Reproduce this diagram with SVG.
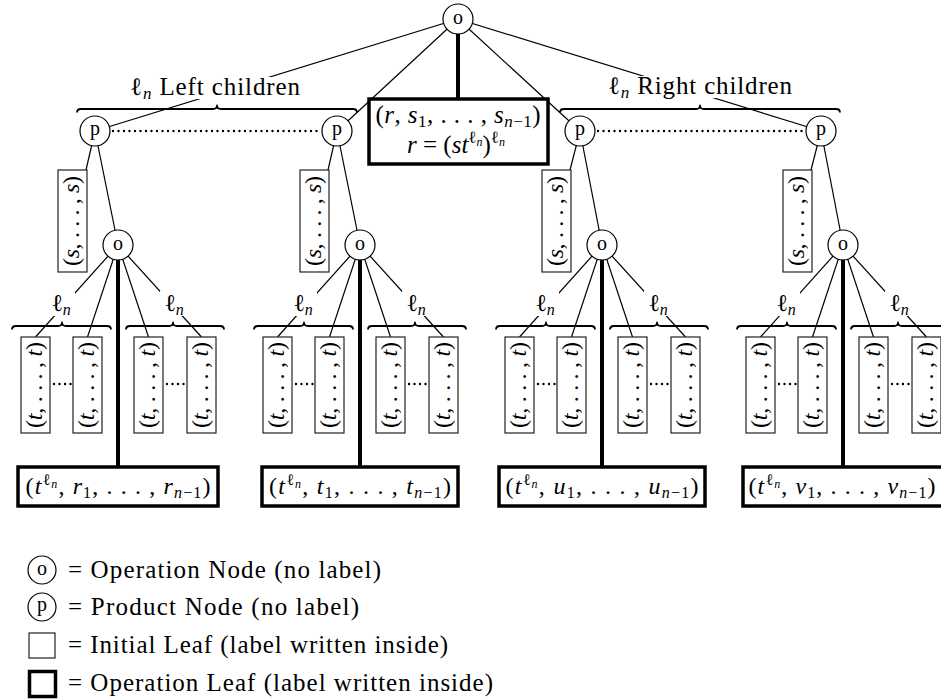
<svg xmlns="http://www.w3.org/2000/svg" width="941" height="700" viewBox="0 0 941 700">
<style>
.ln{stroke:#000;stroke-width:1.2;fill:none}
.thick{stroke:#000;stroke-width:4;fill:none}
.dot{stroke:#000;stroke-width:2.4;fill:none;stroke-dasharray:0 5.5;stroke-linecap:round}
.circ{fill:#fff;stroke:#000;stroke-width:1.2}
.leaf{fill:#fff;stroke:#222;stroke-width:1.2}
.op{fill:#fff;stroke:#000;stroke-width:3.5}
.brace{fill:none;stroke:#000;stroke-width:1.8;stroke-linejoin:round}
.bg{fill:#fff;stroke:none}
text{font-family:"Liberation Serif","DejaVu Serif",serif;fill:#000;font-size:24px}
.i{font-style:italic}
.cl{font-size:20px;text-anchor:middle}
.m{text-anchor:middle}
.lg{font-size:25px}
.big{font-size:25px}
</style>
<g id="connectors">
<line class="ln" x1="458" y1="19" x2="95" y2="131"/>
<line class="ln" x1="458" y1="19" x2="337" y2="131"/>
<line class="ln" x1="458" y1="19" x2="580" y2="131"/>
<line class="ln" x1="458" y1="19" x2="821" y2="131"/>
<line class="thick" x1="458" y1="19" x2="458" y2="99"/>
<line class="dot" x1="113" y1="131" x2="322" y2="131"/>
<line class="dot" x1="598" y1="131" x2="806" y2="131"/>
<line class="ln" x1="95" y1="131" x2="86" y2="170"/>
<line class="ln" x1="95" y1="131" x2="118" y2="245"/>
<line class="ln" x1="118" y1="245" x2="35.5" y2="337"/>
<line class="ln" x1="118" y1="245" x2="87.5" y2="337"/>
<line class="ln" x1="118" y1="245" x2="148.5" y2="337"/>
<line class="ln" x1="118" y1="245" x2="201.5" y2="337"/>
<line class="thick" x1="118" y1="245" x2="118" y2="467"/>
<line class="dot" x1="54" y1="384" x2="71" y2="384"/>
<line class="dot" x1="167" y1="384" x2="185" y2="384"/>
<line class="ln" x1="337" y1="131" x2="328" y2="170"/>
<line class="ln" x1="337" y1="131" x2="360" y2="245"/>
<line class="ln" x1="360" y1="245" x2="277.5" y2="337"/>
<line class="ln" x1="360" y1="245" x2="329.5" y2="337"/>
<line class="ln" x1="360" y1="245" x2="390.5" y2="337"/>
<line class="ln" x1="360" y1="245" x2="443.5" y2="337"/>
<line class="thick" x1="360" y1="245" x2="360" y2="467"/>
<line class="dot" x1="296" y1="384" x2="313" y2="384"/>
<line class="dot" x1="409" y1="384" x2="427" y2="384"/>
<line class="ln" x1="580" y1="131" x2="570" y2="170"/>
<line class="ln" x1="580" y1="131" x2="602" y2="245"/>
<line class="ln" x1="602" y1="245" x2="519.5" y2="337"/>
<line class="ln" x1="602" y1="245" x2="571.5" y2="337"/>
<line class="ln" x1="602" y1="245" x2="632.5" y2="337"/>
<line class="ln" x1="602" y1="245" x2="685.5" y2="337"/>
<line class="thick" x1="602" y1="245" x2="602" y2="467"/>
<line class="dot" x1="538" y1="384" x2="555" y2="384"/>
<line class="dot" x1="651" y1="384" x2="669" y2="384"/>
<line class="ln" x1="821" y1="131" x2="811" y2="170"/>
<line class="ln" x1="821" y1="131" x2="843" y2="245"/>
<line class="ln" x1="843" y1="245" x2="760.5" y2="337"/>
<line class="ln" x1="843" y1="245" x2="812.5" y2="337"/>
<line class="ln" x1="843" y1="245" x2="873.5" y2="337"/>
<line class="ln" x1="843" y1="245" x2="926.5" y2="337"/>
<line class="thick" x1="843" y1="245" x2="843" y2="467"/>
<line class="dot" x1="779" y1="384" x2="796" y2="384"/>
<line class="dot" x1="892" y1="384" x2="910" y2="384"/>
</g>
<g id="labels">
<rect class="bg" x="126" y="77" width="179" height="22"/>
<text class="lg" x="130" y="95" textLength="170">ℓ<tspan class="i" font-size="17" dy="4">n</tspan><tspan dy="-4"> Left children</tspan></text>
<path class="brace" d="M77,112.5 Q77,109 81,109 L213,109 Q217,109 217,105.5 Q217,109 221,109 L353,109 Q357,109 357,112.5"/>
<rect class="bg" x="604" y="76" width="192" height="22"/>
<text class="lg" x="608" y="94" textLength="184">ℓ<tspan class="i" font-size="17" dy="4">n</tspan><tspan dy="-4"> Right children</tspan></text>
<path class="brace" d="M560,112.5 Q560,109 564,109 L696,109 Q700,109 700,105.5 Q700,109 704,109 L836,109 Q840,109 840,112.5"/>
<rect class="bg" x="47" y="291" width="28" height="25"/>
<text class="m" x="61" y="311">ℓ<tspan class="i" font-size="16" dy="4">n</tspan></text>
<rect class="bg" x="160" y="291" width="28" height="25"/>
<text class="m" x="174" y="311">ℓ<tspan class="i" font-size="16" dy="4">n</tspan></text>
<path class="brace" d="M12,329.5 Q12,326 16,326 L58,326 Q62,326 62,322.5 Q62,326 66,326 L107,326 Q111,326 111,329.5"/>
<path class="brace" d="M126,329.5 Q126,326 130,326 L169,326 Q173,326 173,322.5 Q173,326 177,326 L220,326 Q224,326 224,329.5"/>
<rect class="bg" x="289" y="291" width="28" height="25"/>
<text class="m" x="303" y="311">ℓ<tspan class="i" font-size="16" dy="4">n</tspan></text>
<rect class="bg" x="402" y="291" width="28" height="25"/>
<text class="m" x="416" y="311">ℓ<tspan class="i" font-size="16" dy="4">n</tspan></text>
<path class="brace" d="M254,329.5 Q254,326 258,326 L300,326 Q304,326 304,322.5 Q304,326 308,326 L349,326 Q353,326 353,329.5"/>
<path class="brace" d="M368,329.5 Q368,326 372,326 L411,326 Q415,326 415,322.5 Q415,326 419,326 L462,326 Q466,326 466,329.5"/>
<rect class="bg" x="531" y="291" width="28" height="25"/>
<text class="m" x="545" y="311">ℓ<tspan class="i" font-size="16" dy="4">n</tspan></text>
<rect class="bg" x="644" y="291" width="28" height="25"/>
<text class="m" x="658" y="311">ℓ<tspan class="i" font-size="16" dy="4">n</tspan></text>
<path class="brace" d="M496,329.5 Q496,326 500,326 L542,326 Q546,326 546,322.5 Q546,326 550,326 L591,326 Q595,326 595,329.5"/>
<path class="brace" d="M610,329.5 Q610,326 614,326 L653,326 Q657,326 657,322.5 Q657,326 661,326 L704,326 Q708,326 708,329.5"/>
<rect class="bg" x="772" y="291" width="28" height="25"/>
<text class="m" x="786" y="311">ℓ<tspan class="i" font-size="16" dy="4">n</tspan></text>
<rect class="bg" x="885" y="291" width="28" height="25"/>
<text class="m" x="899" y="311">ℓ<tspan class="i" font-size="16" dy="4">n</tspan></text>
<path class="brace" d="M737,329.5 Q737,326 741,326 L783,326 Q787,326 787,322.5 Q787,326 791,326 L832,326 Q836,326 836,329.5"/>
<path class="brace" d="M851,329.5 Q851,326 855,326 L894,326 Q898,326 898,322.5 Q898,326 902,326 L945,326 Q949,326 949,329.5"/>
</g>
<g id="root">
<circle class="circ" cx="458" cy="19" r="15"/>
<text class="cl" x="458" y="23.5">o</text>
</g>
<g id="root-leaf">
<rect class="op" x="369" y="99" width="179" height="65"/>
<text class="m big" x="458" y="123" textLength="165">(<tspan class="i">r</tspan>, <tspan class="i">s</tspan><tspan font-size="17" dy="4">1</tspan><tspan dy="-4">, . . . , </tspan><tspan class="i">s</tspan><tspan font-size="17" dy="4"><tspan class="i">n</tspan>−1</tspan><tspan dy="-4">)</tspan></text>
<text class="m big" x="456" y="153"><tspan class="i">r</tspan> = (<tspan class="i">st</tspan><tspan font-size="17" dy="-10">ℓ</tspan><tspan class="i" font-size="12" dy="3">n</tspan><tspan dy="7">)</tspan><tspan font-size="17" dy="-10">ℓ</tspan><tspan class="i" font-size="12" dy="3">n</tspan></text>
</g>
<g id="p1"><circle class="circ" cx="95" cy="131" r="15"/><text class="cl" x="95" y="135">p</text></g>
<g id="p2"><circle class="circ" cx="337" cy="131" r="15"/><text class="cl" x="337" y="135">p</text></g>
<g id="p3"><circle class="circ" cx="580" cy="131" r="15"/><text class="cl" x="580" y="135">p</text></g>
<g id="p4"><circle class="circ" cx="821" cy="131" r="15"/><text class="cl" x="821" y="135">p</text></g>
<g id="s1"><rect class="leaf" x="58" y="170" width="29" height="102"/><text class="m" transform="translate(72.5,221) rotate(-90)" x="0" y="6.5" textLength="90">(<tspan class="i">s</tspan>, . . . , <tspan class="i">s</tspan>)</text></g>
<g id="s2"><rect class="leaf" x="300" y="170" width="29" height="102"/><text class="m" transform="translate(314.5,221) rotate(-90)" x="0" y="6.5" textLength="90">(<tspan class="i">s</tspan>, . . . , <tspan class="i">s</tspan>)</text></g>
<g id="s3"><rect class="leaf" x="542" y="170" width="29" height="102"/><text class="m" transform="translate(556.5,221) rotate(-90)" x="0" y="6.5" textLength="90">(<tspan class="i">s</tspan>, . . . , <tspan class="i">s</tspan>)</text></g>
<g id="s4"><rect class="leaf" x="783" y="170" width="29" height="102"/><text class="m" transform="translate(797.5,221) rotate(-90)" x="0" y="6.5" textLength="90">(<tspan class="i">s</tspan>, . . . , <tspan class="i">s</tspan>)</text></g>
<g id="o1"><circle class="circ" cx="118" cy="245" r="15"/><text class="cl" x="118" y="249.5">o</text></g>
<g id="o2"><circle class="circ" cx="360" cy="245" r="15"/><text class="cl" x="360" y="249.5">o</text></g>
<g id="o3"><circle class="circ" cx="602" cy="245" r="15"/><text class="cl" x="602" y="249.5">o</text></g>
<g id="o4"><circle class="circ" cx="843" cy="245" r="15"/><text class="cl" x="843" y="249.5">o</text></g>
<g id="t-leaves-1">
<rect class="leaf" x="21" y="337" width="29" height="96"/><text class="m" transform="translate(35.5,385) rotate(-90)" x="0" y="6.5" textLength="86">(<tspan class="i">t</tspan>, . . . , <tspan class="i">t</tspan>)</text>
<rect class="leaf" x="73" y="337" width="29" height="96"/><text class="m" transform="translate(87.5,385) rotate(-90)" x="0" y="6.5" textLength="86">(<tspan class="i">t</tspan>, . . . , <tspan class="i">t</tspan>)</text>
<rect class="leaf" x="134" y="337" width="29" height="96"/><text class="m" transform="translate(148.5,385) rotate(-90)" x="0" y="6.5" textLength="86">(<tspan class="i">t</tspan>, . . . , <tspan class="i">t</tspan>)</text>
<rect class="leaf" x="187" y="337" width="29" height="96"/><text class="m" transform="translate(201.5,385) rotate(-90)" x="0" y="6.5" textLength="86">(<tspan class="i">t</tspan>, . . . , <tspan class="i">t</tspan>)</text>
</g>
<g id="t-leaves-2">
<rect class="leaf" x="263" y="337" width="29" height="96"/><text class="m" transform="translate(277.5,385) rotate(-90)" x="0" y="6.5" textLength="86">(<tspan class="i">t</tspan>, . . . , <tspan class="i">t</tspan>)</text>
<rect class="leaf" x="315" y="337" width="29" height="96"/><text class="m" transform="translate(329.5,385) rotate(-90)" x="0" y="6.5" textLength="86">(<tspan class="i">t</tspan>, . . . , <tspan class="i">t</tspan>)</text>
<rect class="leaf" x="376" y="337" width="29" height="96"/><text class="m" transform="translate(390.5,385) rotate(-90)" x="0" y="6.5" textLength="86">(<tspan class="i">t</tspan>, . . . , <tspan class="i">t</tspan>)</text>
<rect class="leaf" x="429" y="337" width="29" height="96"/><text class="m" transform="translate(443.5,385) rotate(-90)" x="0" y="6.5" textLength="86">(<tspan class="i">t</tspan>, . . . , <tspan class="i">t</tspan>)</text>
</g>
<g id="t-leaves-3">
<rect class="leaf" x="505" y="337" width="29" height="96"/><text class="m" transform="translate(519.5,385) rotate(-90)" x="0" y="6.5" textLength="86">(<tspan class="i">t</tspan>, . . . , <tspan class="i">t</tspan>)</text>
<rect class="leaf" x="557" y="337" width="29" height="96"/><text class="m" transform="translate(571.5,385) rotate(-90)" x="0" y="6.5" textLength="86">(<tspan class="i">t</tspan>, . . . , <tspan class="i">t</tspan>)</text>
<rect class="leaf" x="618" y="337" width="29" height="96"/><text class="m" transform="translate(632.5,385) rotate(-90)" x="0" y="6.5" textLength="86">(<tspan class="i">t</tspan>, . . . , <tspan class="i">t</tspan>)</text>
<rect class="leaf" x="671" y="337" width="29" height="96"/><text class="m" transform="translate(685.5,385) rotate(-90)" x="0" y="6.5" textLength="86">(<tspan class="i">t</tspan>, . . . , <tspan class="i">t</tspan>)</text>
</g>
<g id="t-leaves-4">
<rect class="leaf" x="746" y="337" width="29" height="96"/><text class="m" transform="translate(760.5,385) rotate(-90)" x="0" y="6.5" textLength="86">(<tspan class="i">t</tspan>, . . . , <tspan class="i">t</tspan>)</text>
<rect class="leaf" x="798" y="337" width="29" height="96"/><text class="m" transform="translate(812.5,385) rotate(-90)" x="0" y="6.5" textLength="86">(<tspan class="i">t</tspan>, . . . , <tspan class="i">t</tspan>)</text>
<rect class="leaf" x="859" y="337" width="29" height="96"/><text class="m" transform="translate(873.5,385) rotate(-90)" x="0" y="6.5" textLength="86">(<tspan class="i">t</tspan>, . . . , <tspan class="i">t</tspan>)</text>
<rect class="leaf" x="912" y="337" width="29" height="96"/><text class="m" transform="translate(926.5,385) rotate(-90)" x="0" y="6.5" textLength="86">(<tspan class="i">t</tspan>, . . . , <tspan class="i">t</tspan>)</text>
</g>
<g id="op-leaf-1"><rect class="op" x="18" y="467" width="200" height="39"/>
<text class="m" x="118" y="494" textLength="185">(<tspan class="i">t</tspan><tspan font-size="16" dy="-9">ℓ</tspan><tspan class="i" font-size="12" dy="3">n</tspan><tspan dy="6">, </tspan><tspan class="i">r</tspan><tspan font-size="16" dy="4">1</tspan><tspan dy="-4">, . . . , </tspan><tspan class="i">r</tspan><tspan font-size="16" dy="4"><tspan class="i">n</tspan>−1</tspan><tspan dy="-4">)</tspan></text></g>
<g id="op-leaf-2"><rect class="op" x="262" y="467" width="196" height="39"/>
<text class="m" x="360" y="494" textLength="182">(<tspan class="i">t</tspan><tspan font-size="16" dy="-9">ℓ</tspan><tspan class="i" font-size="12" dy="3">n</tspan><tspan dy="6">, </tspan><tspan class="i">t</tspan><tspan font-size="16" dy="4">1</tspan><tspan dy="-4">, . . . , </tspan><tspan class="i">t</tspan><tspan font-size="16" dy="4"><tspan class="i">n</tspan>−1</tspan><tspan dy="-4">)</tspan></text></g>
<g id="op-leaf-3"><rect class="op" x="499" y="467" width="206" height="39"/>
<text class="m" x="602" y="494" textLength="193">(<tspan class="i">t</tspan><tspan font-size="16" dy="-9">ℓ</tspan><tspan class="i" font-size="12" dy="3">n</tspan><tspan dy="6">, </tspan><tspan class="i">u</tspan><tspan font-size="16" dy="4">1</tspan><tspan dy="-4">, . . . , </tspan><tspan class="i">u</tspan><tspan font-size="16" dy="4"><tspan class="i">n</tspan>−1</tspan><tspan dy="-4">)</tspan></text></g>
<g id="op-leaf-4"><rect class="op" x="743" y="467" width="206" height="39"/>
<text class="m" x="842" y="494" textLength="187">(<tspan class="i">t</tspan><tspan font-size="16" dy="-9">ℓ</tspan><tspan class="i" font-size="12" dy="3">n</tspan><tspan dy="6">, </tspan><tspan class="i">v</tspan><tspan font-size="16" dy="4">1</tspan><tspan dy="-4">, . . . , </tspan><tspan class="i">v</tspan><tspan font-size="16" dy="4"><tspan class="i">n</tspan>−1</tspan><tspan dy="-4">)</tspan></text></g>
<g id="legend">
<circle class="circ" cx="42" cy="570" r="14"/><text class="cl" x="42" y="574.5">o</text>
<text class="lg" x="68" y="578" textLength="313">= Operation Node (no label)</text>
<circle class="circ" cx="42" cy="607" r="14"/><text class="cl" x="42" y="611">p</text>
<text class="lg" x="68" y="615" textLength="291">= Product Node (no label)</text>
<rect class="leaf" x="29" y="633" width="26" height="25"/>
<text class="lg" x="68" y="653" textLength="380">= Initial Leaf (label written inside)</text>
<rect class="op" x="29.5" y="671.5" width="26" height="25"/>
<text class="lg" x="68" y="691" textLength="425">= Operation Leaf (label written inside)</text>
</g>
</svg>
